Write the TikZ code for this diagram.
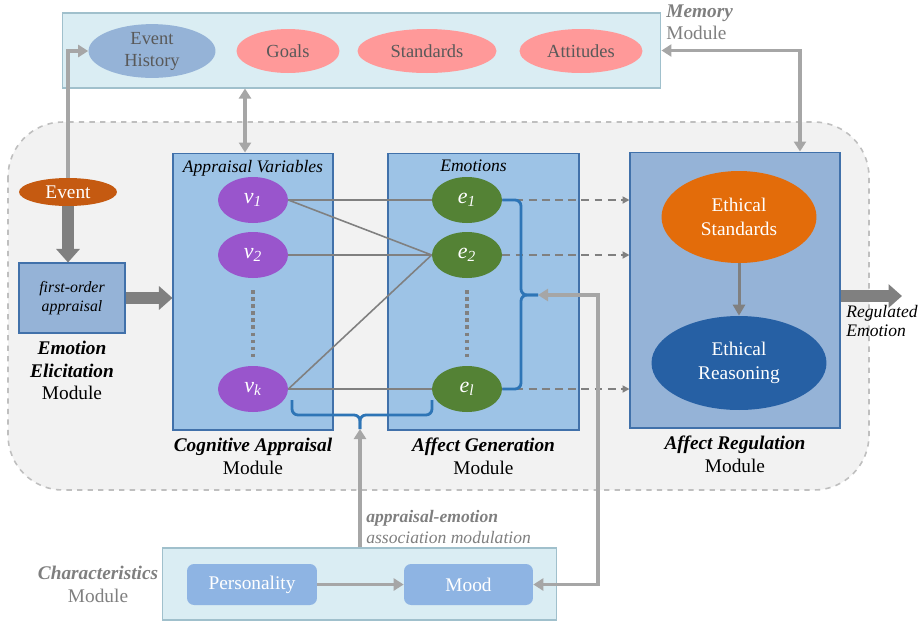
\documentclass[tikz,border=0pt]{standalone}
\usepackage{fontspec}
\setmainfont{Liberation Serif}
\usepackage{tikz}
\usetikzlibrary{arrows,arrows.meta,positioning,calc,shapes.geometric}

\definecolor{memfill}{RGB}{218,237,243}
\definecolor{memdraw}{RGB}{160,192,204}
\definecolor{boxfill}{RGB}{157,195,230}
\definecolor{boxdraw}{RGB}{65,113,170}
\definecolor{regfill}{RGB}{149,179,215}
\definecolor{pinkfill}{RGB}{255,153,153}
\definecolor{eventfill}{RGB}{197,90,17}
\definecolor{vfill}{RGB}{153,85,204}
\definecolor{efill}{RGB}{84,130,53}
\definecolor{stdfill}{RGB}{227,108,10}
\definecolor{reasfill}{RGB}{38,96,164}
\definecolor{persfill}{RGB}{142,180,227}
\definecolor{arrgray}{RGB}{166,166,166}
\definecolor{darkarr}{RGB}{128,128,128}
\definecolor{txtgray}{RGB}{89,89,89}
\definecolor{labgray}{RGB}{127,127,127}
\definecolor{bgfill}{RGB}{242,242,242}
\definecolor{bgdraw}{RGB}{191,191,191}
\definecolor{bracecol}{RGB}{46,117,182}

\begin{document}
\begin{tikzpicture}[x=0.02cm, y=-0.02cm, >={Triangle[length=0.2cm, width=0.24cm]},
		font=\fontsize{11}{13}\selectfont,
		oval/.style={ellipse, inner sep=0pt, align=center},
		memitem/.style={oval, minimum height=0.88cm, text=txtgray, font=\fontsize{10.5}{12.5}\selectfont},
		varnode/.style={oval, fill=vfill, text=white, minimum width=1.4cm, minimum height=0.92cm, font=\fontsize{12.5}{13}\selectfont},
		emonode/.style={oval, fill=efill, text=white, minimum width=1.4cm, minimum height=0.92cm, font=\fontsize{12.5}{13}\selectfont},
		modbox/.style={rectangle, draw=boxdraw, fill=boxfill, line width=0.6pt, inner sep=0pt},
		lightbox/.style={rectangle, draw=memdraw, fill=memfill, line width=0.6pt, inner sep=0pt},
		charitem/.style={rectangle, rounded corners=4pt, fill=persfill, text=white, minimum height=0.82cm},
		modlabel/.style={align=center, inner sep=0pt},
		fat/.style={darkarr, line width=0.23cm, -{Triangle[length=0.27cm, width=0.46cm]}},
		conn/.style={arrgray, line width=2pt},
		link/.style={darkarr, line width=0.9pt},
		dotline/.style={darkarr, line width=2.2pt, dash pattern=on 2.2pt off 1.8pt},
		dasharr/.style={darkarr, line width=1.3pt, dash pattern=on 4.5pt off 3pt, -{Triangle[length=0.14cm, width=0.14cm]}},
		brace/.style={bracecol, line width=1.6pt, rounded corners=0.12cm}]

		\useasboundingbox (0,0) rectangle (920,623);

		% memory module
		\node (mem) [lightbox, minimum width=11.98cm, minimum height=1.5cm] at (361.5,50.5) {};
		\node (evhist) [memitem, fill=regfill, minimum width=2.54cm] at (152,51) {Event\\History};
		\node (goals) [memitem, fill=pinkfill, minimum width=2.06cm] at (288,51) {Goals};
		\node (stds) [memitem, fill=pinkfill, minimum width=2.78cm] at (427,51) {Standards};
		\node (atts) [memitem, fill=pinkfill, minimum width=2.46cm] at (581,51) {Attitudes};
		\node (memlab) [anchor=north west, align=left, text=labgray, inner sep=0pt] at (666,4) {\textbf{\textit{Memory}}\\Module};

		\draw [bgdraw, dashed, fill=bgfill, line width=0.9pt, rounded corners=1.1cm] (8,122) rectangle (869,490);

		% emotion elicitation
		\node (event) [oval, fill=eventfill, text=white, minimum width=1.96cm, minimum height=0.56cm] at (68,192) {Event};
		\node (foa) [modbox, fill=regfill, minimum width=2.12cm, minimum height=1.4cm, align=center, font=\itshape\fontsize{9}{10.5}\selectfont] at (72,298) {first-order\\appraisal};
		\node (eelab) [modlabel, below=0.14cm of foa] {\textbf{\textit{Emotion}}\\\textbf{\textit{Elicitation}}\\Module};

		% cognitive appraisal
		\node (appr) [modbox, minimum width=3.2cm, minimum height=5.54cm] at (253,291.5) {};
		\node (apprtitle) [below=4pt of appr.north, inner sep=0pt, font=\itshape\fontsize{10}{12}\selectfont] {Appraisal Variables};
		\node (v1) [varnode] at (253,200) {\textit{v\textsubscript{1}}};
		\node (v2) [varnode] at (253,255) {\textit{v\textsubscript{2}}};
		\node (vk) [varnode] at (253,389) {\textit{v\textsubscript{k}}};
		\node (calab) [modlabel, below=0.14cm of appr] {\textbf{\textit{Cognitive Appraisal}}\\Module};

		% affect generation
		\node (emo) [modbox, minimum width=3.82cm, minimum height=5.54cm] at (483.5,291.5) {};
		\node (emotitle) [below=4pt of emo.north, xshift=-0.2cm, inner sep=0pt, font=\itshape\fontsize{10}{12}\selectfont] {Emotions};
		\node (e1) [emonode] at (467,200) {\textit{e\textsubscript{1}}};
		\node (e2) [emonode] at (467,255) {\textit{e\textsubscript{2}}};
		\node (el) [emonode] at (467,389) {\textit{e\textsubscript{l}}};
		\node (aglab) [modlabel, below=0.14cm of emo] {\textbf{\textit{Affect Generation}}\\Module};

		% affect regulation
		\node (reg) [modbox, fill=regfill, minimum width=4.2cm, minimum height=5.52cm] at (735,290) {};
		\node (estd) [oval, fill=stdfill, text=white, minimum width=3.1cm, minimum height=1.84cm, font=\fontsize{11}{14}\selectfont] at (739,217) {Ethical\\Standards};
		\node (ereas) [oval, fill=reasfill, text=white, minimum width=3.5cm, minimum height=1.88cm, font=\fontsize{11}{14}\selectfont] at (739,363) {Ethical\\Reasoning};
		\node (arlab) [modlabel, below=0.14cm of reg] {\textbf{\textit{Affect Regulation}}\\Module};
		\node (reglbl) [anchor=north west, align=left, inner sep=0pt, font=\itshape\fontsize{10}{11}\selectfont] at (846,305) {Regulated\\Emotion};

		% characteristics module
		\node (charbox) [lightbox, minimum width=7.9cm, minimum height=1.44cm] at (359.5,584) {};
		\node (pers) [charitem, minimum width=2.6cm] at (252,584.5) {Personality};
		\node (mood) [charitem, minimum width=2.58cm] at (468.5,584.5) {Mood};
		\node (charlab) [modlabel, text=labgray, left=0.06cm of charbox] {\textbf{\textit{Characteristics}}\\Module};
		\node (aemlab) [anchor=south west, align=left, text=labgray, inner sep=0pt, font=\fontsize{10}{12}\selectfont] at (366,544) {\textbf{\textit{appraisal-emotion}}\\\textit{association modulation}};

		\coordinate (rmid) at (521,295);
		\coordinate (rtip) at (538,295);
		\coordinate (turn) at (598,295);
		\coordinate (bl) at (292,400);
		\coordinate (br) at (432,400);
		\coordinate (bmid) at (360,415);
		\coordinate (btip) at (360,429);
		\coordinate (regout) at (902,296);

		\draw [conn, ->] (event.north) |- (evhist.west);
		\draw [fat] (event.south) -- (event.south |- foa.north);
		\draw [fat] (foa.east) -- (foa.east -| appr.west);
		\draw [conn, <->] ([xshift=-0.16cm]appr.north) -- ([xshift=-0.16cm]appr.north |- mem.south);
		\draw [conn, <->] (mem.east) -| ([xshift=1.3cm]reg.north);

		\draw [link] (v1.east) -- (e1.west);
		\draw [link] (v1.east) -- (e2.west);
		\draw [link] (v2.east) -- (e2.west);
		\draw [link] (vk.east) -- (e2.west);
		\draw [link] (vk.east) -- (el.west);
		\draw [dotline] ([yshift=-0.24cm]v2.south) -- ([yshift=0.16cm]vk.north);
		\draw [dotline] ([yshift=-0.24cm]e2.south) -- ([yshift=0.16cm]el.north);

		\foreach \e in {e1,e2,el}
			\draw [dasharr] (\e.east) -- (\e.east -| reg.west);

		\draw [brace] (e1.east) -| (rmid) -- (rtip);
		\draw [brace] (el.east) -| (rmid) -- (rtip);
		\draw [brace] (bl) |- (bmid) -- (btip);
		\draw [brace] (br) |- (bmid) -- (btip);

		\draw [darkarr, line width=1.7pt, -{Triangle[length=0.22cm, width=0.24cm]}] (estd) -- (ereas);
		\draw [fat] (reg.east |- regout) -- (regout);

		\draw [conn, ->] (charbox.north -| btip) -- (btip);
		\draw [conn, <->] (rtip) -- (turn) |- (mood.east);
		\draw [conn, ->] (pers) -- (mood);
	\end{tikzpicture}
\end{document}
